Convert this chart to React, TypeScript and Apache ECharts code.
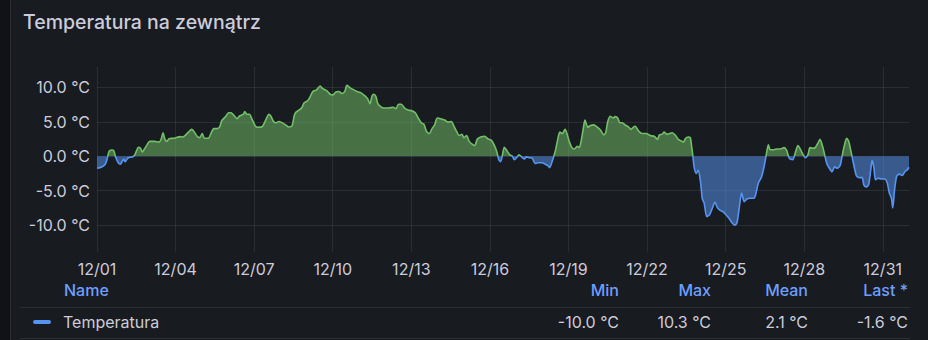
import React, { useEffect, useRef } from "react";
import * as echarts from "echarts";

// time in days since 12/01 00:00
const days: number[] = [
  0.0, 0.18, 0.31, 0.38, 0.46, 0.56, 0.64, 0.71, 0.82, 0.89, 0.97, 1.02, 1.07, 1.15, 1.22, 1.35, 1.43, 1.5, 1.58, 1.66,
  1.73, 1.81, 1.91, 2.01, 2.19, 2.37, 2.45, 2.52, 2.6, 2.67, 2.75, 2.93, 3.06, 3.18, 3.26, 3.36, 3.49, 3.62, 3.72, 3.82,
  3.92, 4.02, 4.1, 4.25, 4.36, 4.46, 4.59, 4.69, 4.76, 4.92, 5.02, 5.12, 5.21, 5.36, 5.43, 5.59, 5.64, 5.72, 5.82, 5.92,
  6.05, 6.15, 6.31, 6.43, 6.56, 6.64, 6.74, 6.84, 6.94, 7.07, 7.2, 7.32, 7.45, 7.53, 7.6, 7.71, 7.81, 7.91, 8.04, 8.14,
  8.24, 8.37, 8.44, 8.52, 8.62, 8.78, 8.9, 9.01, 9.11, 9.23, 9.36, 9.46, 9.54, 9.64, 9.77, 9.92, 10.08, 10.23, 10.33, 10.42,
  10.5, 10.57, 10.65, 10.72, 10.83, 10.95, 11.13, 11.31, 11.41, 11.51, 11.62, 11.74, 11.87, 12.02, 12.15, 12.28, 12.38, 12.48, 12.58, 12.69,
  12.79, 12.89, 12.99, 13.12, 13.27, 13.4, 13.53, 13.63, 13.73, 13.83, 13.93, 14.01, 14.11, 14.21, 14.32, 14.42, 14.52, 14.65, 14.8, 14.93,
  15.06, 15.16, 15.26, 15.34, 15.41, 15.48, 15.55, 15.65, 15.76, 15.86, 15.93, 16.04, 16.11, 16.21, 16.32, 16.39, 16.49, 16.62, 16.72, 16.85,
  16.98, 17.11, 17.21, 17.28, 17.36, 17.44, 17.51, 17.59, 17.67, 17.77, 17.87, 17.95, 18.02, 18.13, 18.23, 18.33, 18.41, 18.48, 18.56, 18.63,
  18.74, 18.84, 18.97, 19.09, 19.22, 19.35, 19.42, 19.5, 19.6, 19.7, 19.78, 19.88, 19.96, 20.06, 20.16, 20.29, 20.39, 20.47, 20.55, 20.65,
  20.72, 20.81, 20.97, 21.12, 21.27, 21.4, 21.47, 21.58, 21.65, 21.76, 21.86, 21.96, 22.09, 22.19, 22.29, 22.39, 22.47, 22.57, 22.65, 22.7,
  22.75, 22.8, 22.88, 22.95, 23.03, 23.11, 23.18, 23.28, 23.39, 23.49, 23.59, 23.69, 23.79, 23.9, 24.0, 24.12, 24.25, 24.35, 24.43, 24.51,
  24.61, 24.71, 24.81, 24.94, 25.07, 25.14, 25.25, 25.37, 25.47, 25.55, 25.63, 25.7, 25.84, 25.97, 26.1, 26.23, 26.33, 26.43, 26.56, 26.66,
  26.76, 26.86, 26.96, 27.04, 27.14, 27.22, 27.32, 27.42, 27.53, 27.6, 27.7, 27.78, 27.86, 27.96, 28.06, 28.16, 28.26, 28.37, 28.44, 28.52,
  28.62, 28.7, 28.77, 28.85, 28.93, 29.0, 29.1, 29.21, 29.28, 29.38, 29.46, 29.54, 29.59, 29.66, 29.72, 29.82, 29.95, 30.07, 30.17, 30.25,
  30.33, 30.38, 30.45, 30.53, 30.63, 30.74, 30.84, 30.94, 31.0,
];

const temps: number[] = [
  -1.75, -1.55, -1.2, -0.5, 0.7, 0.9, 0.8, -0.1, -1.0, -1.15, -0.7, -0.4, -0.8, -0.4, -0.2, -0.1, 0.1, 0.7, 1.3, 1.15,
  0.6, 1.05, 1.65, 2.15, 2.15, 2.05, 2.5, 3.4, 2.4, 2.15, 2.55, 2.6, 2.75, 2.85, 2.8, 3.0, 3.5, 3.9, 3.5, 2.9,
  2.7, 3.3, 2.6, 2.6, 3.4, 4.0, 4.0, 4.3, 5.15, 5.8, 6.3, 6.3, 6.0, 5.45, 5.8, 6.1, 6.5, 6.1, 6.1, 5.35,
  4.35, 4.2, 4.3, 5.15, 6.1, 5.8, 5.05, 4.85, 5.05, 4.85, 4.55, 4.25, 4.45, 5.9, 6.4, 6.7, 7.0, 7.75, 8.05, 8.65,
  9.4, 9.6, 9.9, 10.2, 9.8, 9.5, 9.0, 8.9, 9.3, 9.4, 9.1, 9.4, 10.3, 10.0, 9.7, 9.4, 9.2, 8.75, 8.35, 7.6,
  8.75, 9.0, 8.65, 7.65, 7.2, 7.0, 7.0, 7.1, 6.9, 7.55, 7.55, 7.0, 6.7, 6.6, 6.3, 5.45, 4.85, 4.65, 3.6, 3.3,
  4.0, 4.55, 5.55, 5.45, 5.25, 4.95, 5.05, 4.35, 3.6, 3.0, 3.2, 2.7, 3.0, 2.15, 1.75, 1.55, 2.5, 2.8, 2.9, 2.5,
  2.3, 1.65, 0.7, -0.5, -0.8, 0.2, 1.3, 0.8, 0.2, 0.0, -0.5, -0.1, 0.2, -0.1, -0.4, -0.1, -0.2, -0.3, -1.05, -0.95,
  -0.95, -1.15, -1.35, -1.65, -0.95, 0.0, 0.95, 2.45, 3.5, 3.3, 3.9, 3.2, 2.25, 1.25, 1.05, 1.45, 1.25, 2.15, 3.9, 5.25,
  4.2, 4.45, 4.55, 4.25, 3.8, 3.1, 3.4, 5.05, 5.8, 5.55, 5.75, 5.55, 4.85, 4.85, 4.55, 4.25, 3.9, 4.2, 4.35, 3.8,
  3.5, 3.3, 3.3, 3.0, 2.9, 2.45, 3.1, 3.2, 3.5, 3.2, 3.3, 3.4, 3.0, 2.45, 2.25, 2.05, 2.6, 2.8, 2.7, 1.45,
  0.0, -1.65, -2.5, -2.05, -3.4, -6.2, -6.8, -8.75, -8.45, -7.55, -6.7, -7.5, -7.85, -8.05, -8.45, -8.95, -9.7, -10.0, -9.7, -7.75,
  -5.35, -6.6, -6.2, -6.1, -6.1, -5.65, -3.9, -3.0, -1.45, 0.2, 1.65, 0.95, 0.95, 1.05, 1.05, 1.25, 0.85, -0.3, -0.5, 0.5,
  1.55, 0.95, 0.2, -0.2, 0.2, 1.25, 1.15, 1.25, 1.95, 2.45, 1.45, 0.2, -1.05, -1.75, -2.25, -1.55, -1.75, -1.35, -0.1, 1.35,
  2.6, 2.15, 0.95, -0.5, -1.95, -2.9, -3.1, -3.1, -4.2, -4.45, -4.1, -1.95, -0.6, -1.65, -3.4, -3.2, -3.3, -3.3, -3.9, -5.35,
  -6.1, -7.5, -4.85, -2.9, -2.6, -2.8, -2.25, -1.95, -1.6,
];

const yTicks: number[] = [-10, -5, 0, 5, 10];
const legendHeaders: string[] = ["Min", "Max", "Mean", "Last *"];
const legendValues: string[] = ["-10.0 °C", "10.3 °C", "2.1 °C", "-1.6 °C"];
const seriesName = "Temperatura";
const title = "Temperatura na zewnątrz";

const FONT = "Inter, 'Noto Sans', sans-serif";
const TEXT = "#ccccdc";
const LINK = "#6e9fff";
const GREEN = "#73bf69";
const BLUE = "#5794f2";
const BG = "#181b1f";
const GRIDLINE = "rgba(204,204,220,0.1)";

export default function App() {
  const ref = useRef<HTMLDivElement>(null);

  useEffect(() => {
    document.body.style.margin = "0";
    document.body.style.background = BG;
    if (!ref.current) return;
    const chart = echarts.init(ref.current, null, { renderer: "svg" });

    const data = days.map((d, i) => [d, temps[i]]);
    const colRight = [619, 711, 808, 908];

    const graphics: any[] = [
      { type: "rect", shape: { x: 0, y: 0, width: 10, height: 340 }, style: { fill: "#111217" }, silent: true },
      { type: "line", shape: { x1: 10.5, y1: 0, x2: 10.5, y2: 340 }, style: { stroke: "#2a2d33", lineWidth: 1 }, silent: true },
      {
        type: "text",
        x: 23,
        y: 22,
        style: { text: title, fill: TEXT, font: `500 19.5px ${FONT}`, textVerticalAlign: "middle", verticalAlign: "middle" },
      },
      {
        type: "text",
        x: 64,
        y: 290,
        style: { text: "Name", fill: LINK, font: `500 16px ${FONT}`, textVerticalAlign: "middle", verticalAlign: "middle" },
      },
      { type: "line", shape: { x1: 20, y1: 307.5, x2: 910, y2: 307.5 }, style: { stroke: "#2c2f35", lineWidth: 1 }, silent: true },
      { type: "line", shape: { x1: 20, y1: 338.5, x2: 910, y2: 338.5 }, style: { stroke: "#2c2f35", lineWidth: 1 }, silent: true },
      { type: "rect", shape: { x: 33, y: 320, width: 18, height: 4, r: 2 }, style: { fill: BLUE } },
      {
        type: "text",
        x: 63,
        y: 322,
        style: { text: seriesName, fill: TEXT, font: `400 16px ${FONT}`, textVerticalAlign: "middle", verticalAlign: "middle" },
      },
    ];
    legendHeaders.forEach((h, i) => {
      graphics.push({
        type: "text",
        x: colRight[i],
        y: 290,
        style: {
          text: h,
          fill: LINK,
          font: `500 16px ${FONT}`,
          textAlign: "right",
          align: "right",
          textVerticalAlign: "middle",
          verticalAlign: "middle",
        },
      });
      graphics.push({
        type: "text",
        x: colRight[i],
        y: 322,
        style: {
          text: legendValues[i],
          fill: TEXT,
          font: `400 16px ${FONT}`,
          textAlign: "right",
          align: "right",
          textVerticalAlign: "middle",
          verticalAlign: "middle",
        },
      });
    });

    chart.setOption({
      animation: false,
      backgroundColor: BG,
      textStyle: { fontFamily: FONT },
      grid: { left: 97, right: 19, top: 67, bottom: 88, containLabel: false },
      xAxis: {
        type: "value",
        min: 0,
        max: 31,
        interval: 3,
        axisLine: { show: false },
        axisTick: { show: false },
        axisLabel: {
          color: TEXT,
          fontSize: 16,
          fontFamily: FONT,
          margin: 9,
          showMaxLabel: false,
          formatter: (v: number) => (v > 30 ? "" : "12/" + String(Math.round(v) + 1).padStart(2, "0")),
        },
        splitLine: { show: true, showMaxLine: false, lineStyle: { color: GRIDLINE, width: 1 } },
      },
      yAxis: {
        type: "value",
        min: -13.9,
        max: 12.95,
        axisLine: { show: false },
        axisTick: { show: false, customValues: yTicks },
        axisLabel: {
          color: TEXT,
          fontSize: 16,
          fontFamily: FONT,
          margin: 7,
          customValues: yTicks,
          formatter: (v: number) => v.toFixed(1) + " °C",
        },
        splitLine: { show: false },
      },
      visualMap: {
        show: false,
        type: "piecewise",
        dimension: 1,
        seriesIndex: 0,
        pieces: [
          { gte: -100, lt: 0, color: BLUE },
          { gte: 0, lte: 100, color: GREEN },
        ],
      },
      series: [
        {
          type: "line",
          name: seriesName,
          data,
          showSymbol: false,
          smooth: 0.25,
          lineStyle: { width: 1.6 },
          areaStyle: { opacity: 0.52, origin: 0 },
          markLine: {
            silent: true,
            symbol: "none",
            label: { show: false },
            lineStyle: { color: GRIDLINE, width: 1, type: "solid" },
            data: yTicks.map((t) => ({ yAxis: t })),
            z: 0,
          },
        },
      ],
      graphic: graphics,
    });

    return () => chart.dispose();
  }, []);

  return <div ref={ref} style={{ width: 928, height: 340, background: BG }} />;
}
